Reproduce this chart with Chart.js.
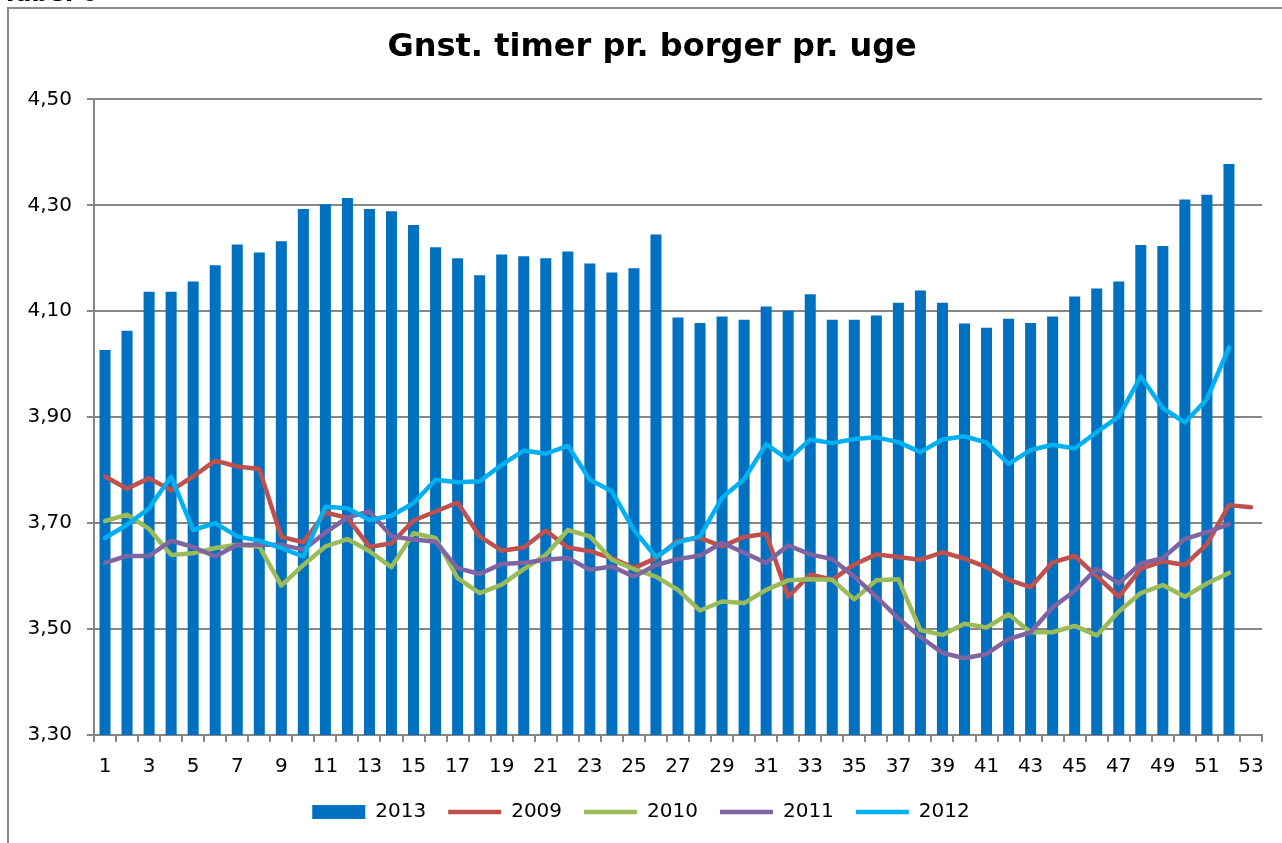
<!DOCTYPE html>
<html>
<head>
<meta charset="utf-8">
<script src="https://cdn.jsdelivr.net/npm/chart.js@4.4.0/dist/chart.umd.min.js"></script>
<style>
    body { margin: 0; background: #fff; overflow: hidden; }
    #c { position: absolute; left: 0; top: 0; }
</style>
</head>
<body>
<canvas id="c" width="1282" height="843"></canvas>
<script>
// uger
var weeks = ['1','2','3','4','5','6','7','8','9','10','11','12','13','14','15','16','17','18','19','20',
    '21','22','23','24','25','26','27','28','29','30','31','32','33','34','35','36','37','38','39','40',
    '41','42','43','44','45','46','47','48','49','50','51','52','53'];

var y2013 = [4.027, 4.063, 4.137, 4.137, 4.156, 4.187, 4.226, 4.211, 4.232, 4.293, 4.302, 4.314, 4.293,
    4.289, 4.263, 4.221, 4.200, 4.168, 4.207, 4.204, 4.200, 4.213, 4.190, 4.173, 4.181, 4.245,
    4.088, 4.078, 4.090, 4.084, 4.109, 4.101, 4.132, 4.084, 4.084, 4.092, 4.116, 4.139, 4.116,
    4.077, 4.069, 4.086, 4.078, 4.090, 4.128, 4.143, 4.156, 4.225, 4.223, 4.311, 4.320, 4.378];

var y2009 = [3.788, 3.765, 3.785, 3.762, 3.788, 3.818, 3.807, 3.802, 3.674, 3.664, 3.720, 3.710, 3.655,
    3.662, 3.705, 3.722, 3.739, 3.675, 3.648, 3.654, 3.686, 3.654, 3.647, 3.634, 3.615, 3.634,
    3.667, 3.672, 3.656, 3.674, 3.680, 3.561, 3.603, 3.593, 3.622, 3.641, 3.636, 3.631, 3.645,
    3.633, 3.617, 3.593, 3.579, 3.626, 3.638, 3.600, 3.561, 3.614, 3.628, 3.621, 3.660, 3.734, 3.730];

var y2010 = [3.704, 3.716, 3.689, 3.640, 3.643, 3.653, 3.659, 3.656, 3.582, 3.621, 3.656, 3.670, 3.647,
    3.617, 3.681, 3.672, 3.596, 3.568, 3.584, 3.613, 3.640, 3.687, 3.675, 3.631, 3.613, 3.599,
    3.574, 3.535, 3.552, 3.549, 3.574, 3.592, 3.594, 3.593, 3.556, 3.592, 3.594, 3.498, 3.489,
    3.510, 3.503, 3.528, 3.494, 3.494, 3.506, 3.488, 3.533, 3.568, 3.583, 3.561, 3.586, 3.606];

var y2011 = [3.625, 3.638, 3.638, 3.667, 3.655, 3.637, 3.659, 3.659, 3.659, 3.650, 3.682, 3.711, 3.722,
    3.675, 3.669, 3.665, 3.615, 3.604, 3.623, 3.625, 3.631, 3.634, 3.612, 3.618, 3.599, 3.621,
    3.632, 3.639, 3.663, 3.644, 3.625, 3.658, 3.641, 3.632, 3.599, 3.561, 3.520, 3.485, 3.455,
    3.445, 3.453, 3.481, 3.494, 3.541, 3.572, 3.614, 3.586, 3.624, 3.634, 3.670, 3.683, 3.698];

var y2012 = [3.672, 3.697, 3.728, 3.788, 3.687, 3.700, 3.675, 3.667, 3.653, 3.637, 3.731, 3.728, 3.706,
    3.714, 3.738, 3.782, 3.777, 3.779, 3.810, 3.837, 3.831, 3.846, 3.782, 3.760, 3.687, 3.636,
    3.664, 3.675, 3.748, 3.783, 3.849, 3.820, 3.858, 3.851, 3.859, 3.862, 3.853, 3.834, 3.858,
    3.864, 3.852, 3.812, 3.838, 3.848, 3.841, 3.872, 3.901, 3.977, 3.917, 3.890, 3.934, 4.032];

var font = "'DejaVu Sans', Verdana, sans-serif";

function lineSet(label, data, color, order) {
    return {
        type: 'line',
        label: label,
        data: data,
        borderColor: color,
        backgroundColor: color,
        borderWidth: 4.5,
        borderCapStyle: 'round',
        borderJoinStyle: 'round',
        pointRadius: 0,
        pointStyle: 'line',
        tension: 0,
        fill: false,
        order: order
    };
}

// ramme om diagrammet + afskaaret overskrift foroven
var framePlugin = {
    id: 'frame',
    beforeDraw: function(chart) {
        var c = chart.ctx;
        c.save();
        c.strokeStyle = '#8c8c8c';
        c.lineWidth = 2;
        c.beginPath();
        c.moveTo(8, chart.height + 5);
        c.lineTo(8, 8);
        c.lineTo(chart.width + 5, 8);
        c.stroke();
        c.fillStyle = '#000';
        c.font = "bold 24px " + font;
        c.textBaseline = 'alphabetic';
        c.fillText('Tabel 6', 2, 1);
        c.restore();
    }
};

var ctx = document.getElementById('c').getContext('2d');
var chart = new Chart(ctx, {
    type: 'bar',
    data: {
        labels: weeks,
        datasets: [
            {
                label: '2013',
                data: y2013,
                backgroundColor: '#0070C0',
                borderWidth: 0,
                barPercentage: 0.5,
                categoryPercentage: 1.0,
                pointStyle: 'rect',
                order: 4
            },
            lineSet('2009', y2009, '#C0504D', 3),
            lineSet('2010', y2010, '#9BBB59', 2),
            lineSet('2011', y2011, '#8064A2', 1),
            lineSet('2012', y2012, '#00B0F0', 0)
        ]
    },
    plugins: [framePlugin],
    options: {
        responsive: false,
        animation: false,
        devicePixelRatio: 1,
        layout: { padding: { left: 20, right: 20, top: 0, bottom: 11 } },
        plugins: {
            tooltip: { enabled: false },
            title: {
                display: true,
                text: '\u00a0\u00a0Gnst. timer pr. borger pr. uge',
                color: '#000',
                font: { family: font, size: 32, weight: 'bold', lineHeight: 1.2 },
                padding: { top: 28, bottom: 33 }
            },
            legend: {
                position: 'bottom',
                labels: {
                    usePointStyle: true,
                    pointStyleWidth: 53,
                    boxHeight: 14,
                    padding: 22,
                    color: '#000',
                    font: { family: font, size: 20 },
                    sort: function(a, b) { return a.datasetIndex - b.datasetIndex; }
                }
            }
        },
        scales: {
            x: {
                afterFit: function(scale) { scale.height = scale.height - 12; },
                grid: {
                    display: true,
                    drawOnChartArea: false,
                    drawTicks: true,
                    tickLength: 7,
                    color: '#868686',
                    lineWidth: 2,
                    offset: true
                },
                border: { display: true, color: '#868686', width: 2 },
                ticks: {
                    autoSkip: false,
                    maxRotation: 0,
                    minRotation: 0,
                    padding: 13,
                    color: '#000',
                    font: { family: font, size: 20 },
                    callback: function(value, index) {
                        return index % 2 === 0 ? weeks[index] : '';
                    }
                }
            },
            y: {
                min: 3.3,
                max: 4.5,
                afterFit: function(scale) { scale.width = 74; },
                grid: {
                    color: '#868686',
                    lineWidth: 2,
                    tickLength: 7
                },
                border: { display: true, color: '#868686', width: 2 },
                ticks: {
                    stepSize: 0.2,
                    padding: 15,
                    color: '#000',
                    font: { family: font, size: 20 },
                    callback: function(value) {
                        return value.toFixed(2).replace('.', ',');
                    }
                }
            }
        }
    }
});
</script>
</body>
</html>
